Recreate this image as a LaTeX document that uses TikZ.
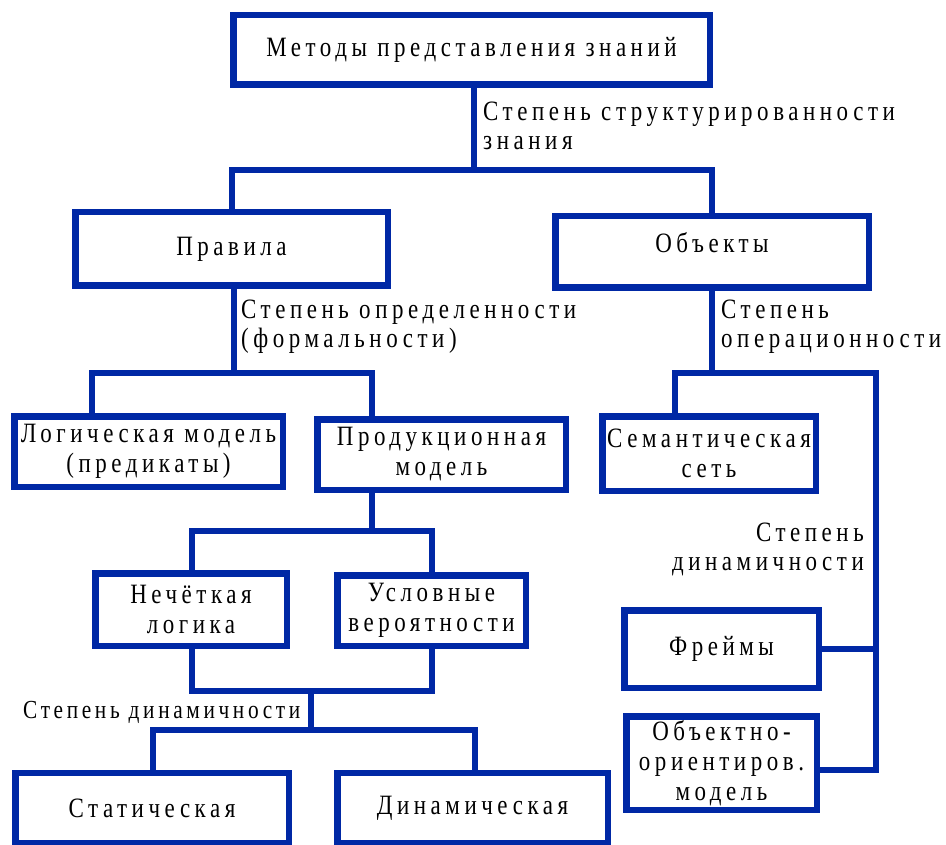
\documentclass[tikz,border=0pt]{standalone}
\usepackage{fontspec}
\setmainfont{Liberation Serif}[LetterSpace=16.25, FakeStretch=0.82]
\newfontfamily\tightfont{Liberation Serif}[LetterSpace=14, FakeStretch=0.82]
\usetikzlibrary{positioning}
\definecolor{kbblue}{RGB}{0,40,165}

\begin{document}
\begin{tikzpicture}[
    x=1pt, y=-1pt,
    box/.style={rectangle, draw=kbblue, line width=6.5pt, fill=white,
                align=center, inner sep=0pt, font=\fontsize{28}{30}\selectfont},
    lbl/.style={inner sep=0pt, font=\fontsize{28}{29}\selectfont},
    link/.style={draw=kbblue, line width=6pt}
]
\useasboundingbox (0,0) rectangle (946,845);

% boxes
\node[box, minimum width=476.5pt, minimum height=69.5pt] (meth) at (471.5,50) {Методы представления знаний};
\node[box, minimum width=312.5pt, minimum height=73.5pt, text height=19pt, text depth=5pt] (rules) at (231.5,249) {Правила};
\node[box, minimum width=313.5pt, minimum height=71.5pt, text height=19pt, text depth=17pt] (objs) at (712,252) {Объекты};
\node[box, minimum width=268.5pt, minimum height=70.5pt] (logic) at (148.5,451.5) {Логическая модель\\(предикаты)};
\node[box, minimum width=248.5pt, minimum height=70.5pt] (prod) at (441.5,454.5) {Продукционная\\модель};
\node[box, minimum width=213.5pt, minimum height=74.5pt] (sem) at (709,453.5) {Семантическая\\сеть};
\node[box, minimum width=191.5pt, minimum height=72.5pt] (fuzzy) at (191,609.5) {Нечёткая\\логика};
\node[box, minimum width=188.5pt, minimum height=70.5pt] (cond) at (431.5,610.5) {Условные\\вероятности};
\node[box, minimum width=273.5pt, minimum height=70.5pt] (stat) at (152,808) {Статическая};
\node[box, minimum width=270.5pt, minimum height=70.5pt] (dyn) at (472.5,808) {Динамическая};
\node[box, minimum width=194.5pt, minimum height=77.5pt] (frames) at (721.5,649) {Фреймы};
\node[box, minimum width=190.5pt, minimum height=93.5pt] (oop) at (721.5,763) {Объектно-\\ориентиров.\\модель};

% junctions
\coordinate (j1) at (474,170);
\coordinate (j2) at (234,373);
\coordinate (lg) at (92,373);
\coordinate (pr) at (372,373);
\coordinate (sm) at (675,373);
\coordinate (rt) at (876,373);
\coordinate (ob) at (876,770);
\coordinate (j4) at (372,531);
\coordinate (fz) at (192,531);
\coordinate (cd) at (432,531);
\coordinate (j5) at (311,691);
\coordinate (j6) at (311,730);
\coordinate (st) at (153,730);
\coordinate (dn) at (475,730);

% connectors
\draw[link] (j1 |- meth.south) -- (j1);
\draw[link] (rules.north) |- (j1) -| (objs.north);
\draw[link] (j2 |- rules.south) -- (j2);
\draw[link] (lg |- logic.north) -- (lg) -- (pr) -- (pr |- prod.north);
\draw[link] (objs.south) -- (objs.south |- sm);
\draw[link] (sm |- sem.north) -- (sm) -- (rt) -- (ob) -- (ob -| oop.east);
\draw[link] (frames.east) -- (frames.east -| rt);
\draw[link] (j4 |- prod.south) -- (j4);
\draw[link] (fz |- fuzzy.north) -- (fz) -- (cd) -- (cd |- cond.north);
\draw[link] (fz |- fuzzy.south) |- (j5) -| (cd |- cond.south);
\draw[link] (j5) -- (j6);
\draw[link] (st |- stat.north) -- (st) -- (dn) -- (dn |- dyn.north);

% labels
\node[lbl, anchor=west, align=left] (lstruct) at (483,126) {Степень структурированности\\знания};
\node[lbl, anchor=west, align=left] (lform) at (241,327) {Степень определенности\\(формальности)};
\node[lbl, anchor=west, align=left] (loper) at (721,327) {Степень\\операционности};
\node[lbl, anchor=east, align=right] (ldynr) at (864,549) {Степень\\динамичности};
\node[lbl, anchor=west, align=left, font=\tightfont\fontsize{26}{29}\selectfont] (ldynl) at (23,712) {Степень динамичности};
\end{tikzpicture}
\end{document}
